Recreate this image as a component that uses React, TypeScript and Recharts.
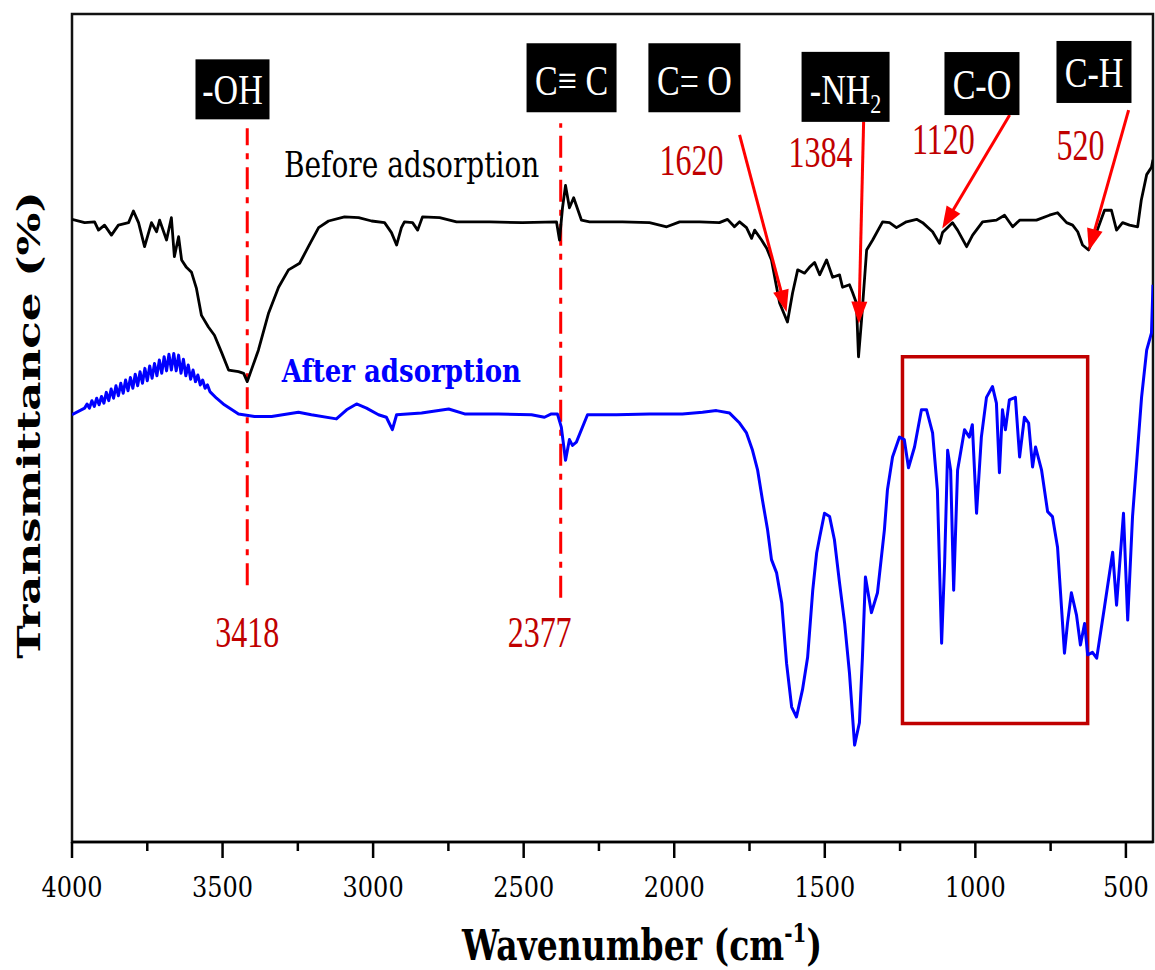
/* FTIR spectra before / after adsorption, drawn with recharts */

import React from "react";
import {
  LineChart,
  Line,
  XAxis,
  YAxis,
  ReferenceLine,
  ReferenceArea,
  ReferenceDot,
} from "recharts";

// ── data ────────────────────────────────────────────────────────────
const beforeWavenumber = [
  4000, 3958, 3925, 3912, 3892, 3869, 3846, 3812, 3796, 3779,
  3759, 3736, 3719, 3709, 3686, 3670, 3660, 3646, 3636, 3620,
  3603, 3587, 3570, 3547, 3527, 3503, 3480, 3447, 3430, 3418,
  3381, 3347, 3314, 3281, 3244, 3215, 3181, 3148, 3095, 3048,
  3005, 2962, 2939, 2922, 2906, 2896, 2869, 2852, 2836, 2779,
  2723, 2613, 2504, 2391, 2381, 2371, 2361, 2348, 2334, 2308,
  2281, 2172, 2082, 2025, 1982, 1916, 1850, 1823, 1800, 1783,
  1760, 1743, 1733, 1710, 1693, 1677, 1660, 1650, 1624, 1607,
  1590, 1567, 1551, 1534, 1517, 1494, 1474, 1451, 1441, 1418,
  1408, 1395, 1388, 1378, 1361, 1341, 1308, 1285, 1262, 1229,
  1195, 1175, 1142, 1119, 1109, 1076, 1059, 1029, 1009, 976,
  930, 903, 876, 853, 797, 754, 727, 697, 677, 660,
  644, 624, 597, 571, 548, 531, 511, 488, 461, 449,
  431, 415, 410,
];
const beforeTransmittance = [
  75.2, 74.8, 74.9, 73.9, 74.5, 73.3, 74.5, 74.8, 76.2, 74.8,
  71.9, 74.8, 73.7, 75.1, 72.7, 75.4, 70.7, 73.1, 70.3, 69.4,
  68.8, 66.9, 63.6, 62.2, 61.2, 59.1, 57.0, 56.8, 56.6, 55.6,
  59.4, 63.9, 67.0, 69.1, 69.9, 71.9, 74.2, 75.0, 75.5, 75.4,
  75.0, 74.8, 73.6, 72.1, 74.2, 74.9, 74.8, 73.9, 75.5, 75.4,
  74.9, 74.9, 74.8, 74.9, 72.7, 76.6, 79.3, 76.6, 77.8, 75.1,
  74.9, 74.9, 74.8, 74.3, 74.9, 74.9, 74.8, 75.2, 74.3, 74.9,
  74.2, 72.9, 73.9, 72.7, 71.7, 70.3, 67.0, 65.1, 62.8, 66.3,
  69.1, 68.7, 69.4, 70.0, 68.5, 70.3, 68.2, 68.5, 67.0, 67.3,
  66.4, 65.1, 58.6, 63.0, 71.5, 72.7, 74.9, 74.8, 74.2, 74.9,
  75.2, 74.8, 73.7, 72.3, 73.6, 74.8, 73.9, 71.9, 73.3, 74.9,
  75.1, 75.7, 74.3, 75.1, 75.1, 75.7, 76.0, 74.8, 74.5, 73.7,
  72.1, 71.5, 73.7, 76.3, 76.3, 73.9, 74.8, 74.5, 74.3, 77.5,
  80.6, 81.5, 82.4,
];

const afterWavenumber = [
  4000, 3958, 3950, 3942, 3934, 3926, 3918, 3910, 3902, 3894,
  3886, 3878, 3870, 3862, 3854, 3846, 3838, 3830, 3822, 3814,
  3806, 3798, 3790, 3782, 3774, 3766, 3758, 3750, 3742, 3734,
  3726, 3718, 3710, 3702, 3694, 3686, 3678, 3670, 3662, 3654,
  3646, 3638, 3630, 3622, 3614, 3606, 3598, 3590, 3582, 3574,
  3566, 3558, 3550, 3542, 3520, 3494, 3447, 3394, 3337, 3248,
  3205, 3122, 3088, 3055, 3022, 2982, 2956, 2936, 2922, 2839,
  2749, 2696, 2584, 2474, 2431, 2408, 2388, 2375, 2361, 2348,
  2338, 2325, 2288, 2192, 2082, 1973, 1906, 1860, 1816, 1783,
  1760, 1740, 1723, 1707, 1690, 1677, 1660, 1643, 1627, 1610,
  1594, 1574, 1557, 1540, 1527, 1517, 1501, 1484, 1468, 1451,
  1434, 1418, 1401, 1385, 1375, 1365, 1345, 1325, 1302, 1292,
  1275, 1252, 1236, 1222, 1202, 1179, 1162, 1142, 1126, 1112,
  1102, 1092, 1082, 1072, 1059, 1036, 1020, 1010, 996, 980,
  963, 943, 930, 920, 910, 900, 887, 867, 853, 837,
  823, 810, 800, 780, 760, 744, 727, 714, 704, 694,
  681, 664, 651, 637, 627, 611, 597, 571, 544, 531,
  508, 494, 478, 448, 431, 415, 410,
];
const afterTransmittance = [
  51.6, 52.4, 52.9, 52.4, 53.3, 52.6, 53.6, 52.8, 53.8, 53.0,
  54.3, 53.3, 54.7, 53.6, 55.1, 53.9, 55.4, 54.2, 55.8, 54.5,
  56.1, 54.8, 56.5, 55.1, 56.8, 55.4, 57.2, 55.7, 57.5, 56.0,
  57.8, 56.3, 58.2, 56.6, 58.6, 56.9, 58.9, 57.0, 59.0, 56.9,
  58.8, 56.6, 58.3, 56.3, 57.6, 55.9, 57.0, 55.6, 56.4, 55.2,
  55.8, 54.8, 55.2, 54.4, 53.6, 52.8, 51.7, 51.4, 51.4, 51.9,
  51.6, 51.1, 52.2, 52.9, 52.4, 51.6, 51.3, 49.8, 51.6, 51.8,
  52.3, 51.7, 51.7, 51.6, 51.3, 51.7, 51.7, 50.1, 46.1, 48.6,
  47.9, 48.3, 51.6, 51.6, 51.7, 51.7, 51.9, 52.1, 51.8, 50.6,
  49.4, 47.3, 44.9, 41.3, 37.7, 34.1, 32.5, 28.9, 21.6, 16.3,
  15.1, 18.4, 22.3, 30.4, 34.9, 36.8, 39.7, 39.3, 36.5, 31.3,
  26.4, 20.4, 11.7, 14.4, 22.3, 32.0, 27.7, 30.1, 37.7, 42.5,
  46.5, 48.9, 48.6, 45.2, 47.7, 52.2, 52.2, 49.4, 42.5, 24.0,
  33.7, 47.3, 44.9, 30.4, 44.9, 49.8, 48.9, 50.4, 39.7, 48.9,
  53.7, 55.0, 53.0, 44.6, 52.2, 49.8, 53.4, 53.7, 46.5, 51.3,
  50.6, 45.3, 47.7, 44.9, 39.9, 39.3, 35.6, 28.4, 22.8, 26.4,
  30.1, 27.4, 23.8, 26.4, 22.6, 22.9, 22.2, 28.4, 35.0, 28.6,
  39.7, 26.8, 39.3, 53.7, 59.4, 61.5, 67.3,
];

const majorTicks = [4000, 3500, 3000, 2500, 2000, 1500, 1000, 500];
const minorTicks = [3750, 3250, 2750, 2250, 1750, 1250, 750];

// dash-dot markers with their wavenumber labels underneath
const peakMarkers = [
  { w: 3418, from: 31.0, to: 86.2, label: "3418", labelW: 3418 },
  { w: 2377, from: 29.5, to: 86.8, label: "2377", labelW: 2447 },
];
const markerLabelT = 23.6;

// functional group boxes
const groupBoxes = [
  { text: "-OH", w: 3467, t: 90.9, bw: 74, bh: 60 },
  { text: "C\u2261 C", w: 2341, t: 92.3, bw: 90, bh: 69 },
  { text: "C= O", w: 1933, t: 92.3, bw: 92, bh: 69 },
  { text: "-NH", sub: "2", w: 1431, t: 91.2, bw: 88, bh: 70 },
  { text: "C-O", w: 978, t: 91.6, bw: 75, bh: 63 },
  { text: "C-H", w: 606, t: 93.0, bw: 75, bh: 62 },
];

// arrows: tail (w1,t1) → head (w2,t2), number label
const peakArrows = [
  { w1: 1783, t1: 85.4, w2: 1627, t2: 64.0, label: "1620", lw: 1943, lt: 80.6 },
  { w1: 1371, t1: 87.0, w2: 1387, t2: 62.6, label: "1384", lw: 1514, lt: 81.5 },
  { w1: 886, t1: 87.8, w2: 1110, t2: 74.1, label: "1120", lw: 1106, lt: 83.1 },
  { w1: 491, t1: 88.4, w2: 623, t2: 71.4, label: "520", lw: 651, lt: 82.4 },
];

const beforeSeries = beforeWavenumber.map((w, i) => ({ w, t: beforeTransmittance[i] }));
const afterSeries = afterWavenumber.map((w, i) => ({ w, t: afterTransmittance[i] }));

const RED = "#ff0000";
const DARK_RED = "#c00000";
const BLUE = "#0000ff";
const SERIF = "'Liberation Serif', 'Times New Roman', serif";
const WIDE_SERIF = "'DejaVu Serif', serif";

// text stretched vertically like the source figure
function Tall({ x, y, sy = 1.3, anchor = "middle", children, ...rest }: any) {
  return (
    <text transform={`translate(${x},${y}) scale(1,${sy})`} textAnchor={anchor} {...rest}>
      {children}
    </text>
  );
}

function WaveTick({ x, y, payload }: any) {
  const major = majorTicks.includes(payload.value);
  return (
    <g>
      <line x1={x} x2={x} y1={y} y2={y + (major ? 16 : 9)} stroke="#000" strokeWidth={2.5} />
      {major && (
        <Tall x={x} y={y + 55} sy={1.2} fontFamily={WIDE_SERIF} fontSize={24} fill="#000">
          {payload.value}
        </Tall>
      )}
    </g>
  );
}

function XTitle() {
  return (
    <Tall x={642} y={960} fontFamily={WIDE_SERIF} fontSize={33} fontWeight="bold" fill="#000">
      Wavenumber (cm
      <tspan dy={-14} fontSize={20}>-1</tspan>
      <tspan dy={14}>)</tspan>
    </Tall>
  );
}

function YTitle() {
  return (
    <text
      transform="translate(40,425) rotate(-90) scale(1.41,1)"
      textAnchor="middle"
      fontFamily={WIDE_SERIF}
      fontSize={32}
      fontWeight="bold"
      fill="#000"
    >
      Transmittance (%)
    </text>
  );
}

function GroupBox({ cx, cy, box }: any) {
  return (
    <g>
      <rect x={cx - box.bw / 2} y={cy - box.bh / 2} width={box.bw} height={box.bh} fill="#000" />
      <Tall x={cx} y={cy + box.bh * 0.25} sy={1.25} fontFamily={SERIF} fontSize={34} fill="#fff">
        {box.text}
        {box.sub && (
          <tspan dy={7} fontSize={22}>
            {box.sub}
          </tspan>
        )}
      </Tall>
    </g>
  );
}

function ArrowShape({ x1, y1, x2, y2 }: any) {
  const dx = x2 - x1;
  const dy = y2 - y1;
  const len = Math.hypot(dx, dy) || 1;
  const ux = dx / len;
  const uy = dy / len;
  const hl = 22;
  const hw = 8;
  const bx = x2 - ux * hl;
  const by = y2 - uy * hl;
  const head = `${x2},${y2} ${bx - uy * hw},${by + ux * hw} ${bx + uy * hw},${by - ux * hw}`;
  return (
    <g>
      <line x1={x1} y1={y1} x2={bx + ux * 2} y2={by + uy * 2} stroke={RED} strokeWidth={3} />
      <polygon points={head} fill={RED} />
    </g>
  );
}

function NumberLabel({ cx, cy, text }: any) {
  return (
    <Tall x={cx} y={cy} sy={1.37} fontFamily={SERIF} fontSize={32} fill={DARK_RED}>
      {text}
    </Tall>
  );
}

function SeriesLabel({ cx, cy, text, bold, color }: any) {
  return (
    <Tall
      x={cx}
      y={cy}
      sy={1.25}
      fontFamily={WIDE_SERIF}
      fontSize={bold ? 26 : 28}
      fontWeight={bold ? "bold" : "normal"}
      fill={color}
    >
      {text}
    </Tall>
  );
}

export default function App() {
  return (
    <div style={{ position: "absolute", left: 0, top: 0, background: "#fff" }}>
      <LineChart width={1155} height={970} margin={{ top: 14, right: 2, left: 0, bottom: 0 }}>
        <XAxis
          type="number"
          dataKey="w"
          domain={[410, 4000]}
          reversed
          allowDataOverflow
          ticks={[...majorTicks, ...minorTicks]}
          interval={0}
          tick={<WaveTick />}
          tickLine={false}
          tickSize={0}
          tickMargin={0}
          axisLine={{ stroke: "#000", strokeWidth: 2.5 }}
          height={128}
          label={<XTitle />}
        />
        <YAxis
          type="number"
          domain={[0, 100]}
          allowDataOverflow
          width={72}
          tick={false}
          tickLine={false}
          axisLine={false}
          label={<YTitle />}
        />

        <ReferenceArea
          x1={4000}
          x2={410}
          y1={0}
          y2={100}
          fill="none"
          stroke="#111"
          strokeWidth={2.5}
          ifOverflow="visible"
        />

        {peakMarkers.map((m) => (
          <ReferenceLine
            key={m.label}
            segment={[
              { x: m.w, y: m.from },
              { x: m.w, y: m.to },
            ]}
            stroke={RED}
            strokeWidth={3}
            strokeDasharray="22 8 6 8"
            ifOverflow="visible"
          />
        ))}

        <Line
          data={beforeSeries}
          dataKey="t"
          type="linear"
          stroke="#000"
          strokeWidth={2.8}
          strokeLinejoin="round"
          dot={false}
          isAnimationActive={false}
        />
        <Line
          data={afterSeries}
          dataKey="t"
          type="linear"
          stroke={BLUE}
          strokeWidth={3}
          strokeLinejoin="round"
          dot={false}
          isAnimationActive={false}
        />

        <ReferenceArea
          x1={1242}
          x2={627}
          y1={14.3}
          y2={58.6}
          fill="none"
          stroke={DARK_RED}
          strokeWidth={3.5}
          ifOverflow="visible"
        />

        {peakArrows.map((a) => (
          <ReferenceLine
            key={`arrow-${a.label}`}
            segment={[
              { x: a.w1, y: a.t1 },
              { x: a.w2, y: a.t2 },
            ]}
            ifOverflow="visible"
            shape={(p: any) => <ArrowShape {...p} />}
          />
        ))}

        {groupBoxes.map((b) => (
          <ReferenceDot
            key={b.text}
            x={b.w}
            y={b.t}
            r={0}
            ifOverflow="visible"
            shape={(p: any) => <GroupBox cx={p.cx} cy={p.cy} box={b} />}
          />
        ))}

        {peakMarkers.map((m) => (
          <ReferenceDot
            key={`num-${m.label}`}
            x={m.labelW}
            y={markerLabelT}
            r={0}
            ifOverflow="visible"
            shape={(p: any) => <NumberLabel cx={p.cx} cy={p.cy} text={m.label} />}
          />
        ))}
        {peakArrows.map((a) => (
          <ReferenceDot
            key={`num-${a.label}`}
            x={a.lw}
            y={a.lt}
            r={0}
            ifOverflow="visible"
            shape={(p: any) => <NumberLabel cx={p.cx} cy={p.cy} text={a.label} />}
          />
        ))}

        <ReferenceDot
          x={2872}
          y={80.3}
          r={0}
          ifOverflow="visible"
          shape={(p: any) => <SeriesLabel cx={p.cx} cy={p.cy} text="Before adsorption" color="#000" />}
        />
        <ReferenceDot
          x={2906}
          y={55.6}
          r={0}
          ifOverflow="visible"
          shape={(p: any) => <SeriesLabel cx={p.cx} cy={p.cy} text="After adsorption" bold color={BLUE} />}
        />
      </LineChart>
    </div>
  );
}
